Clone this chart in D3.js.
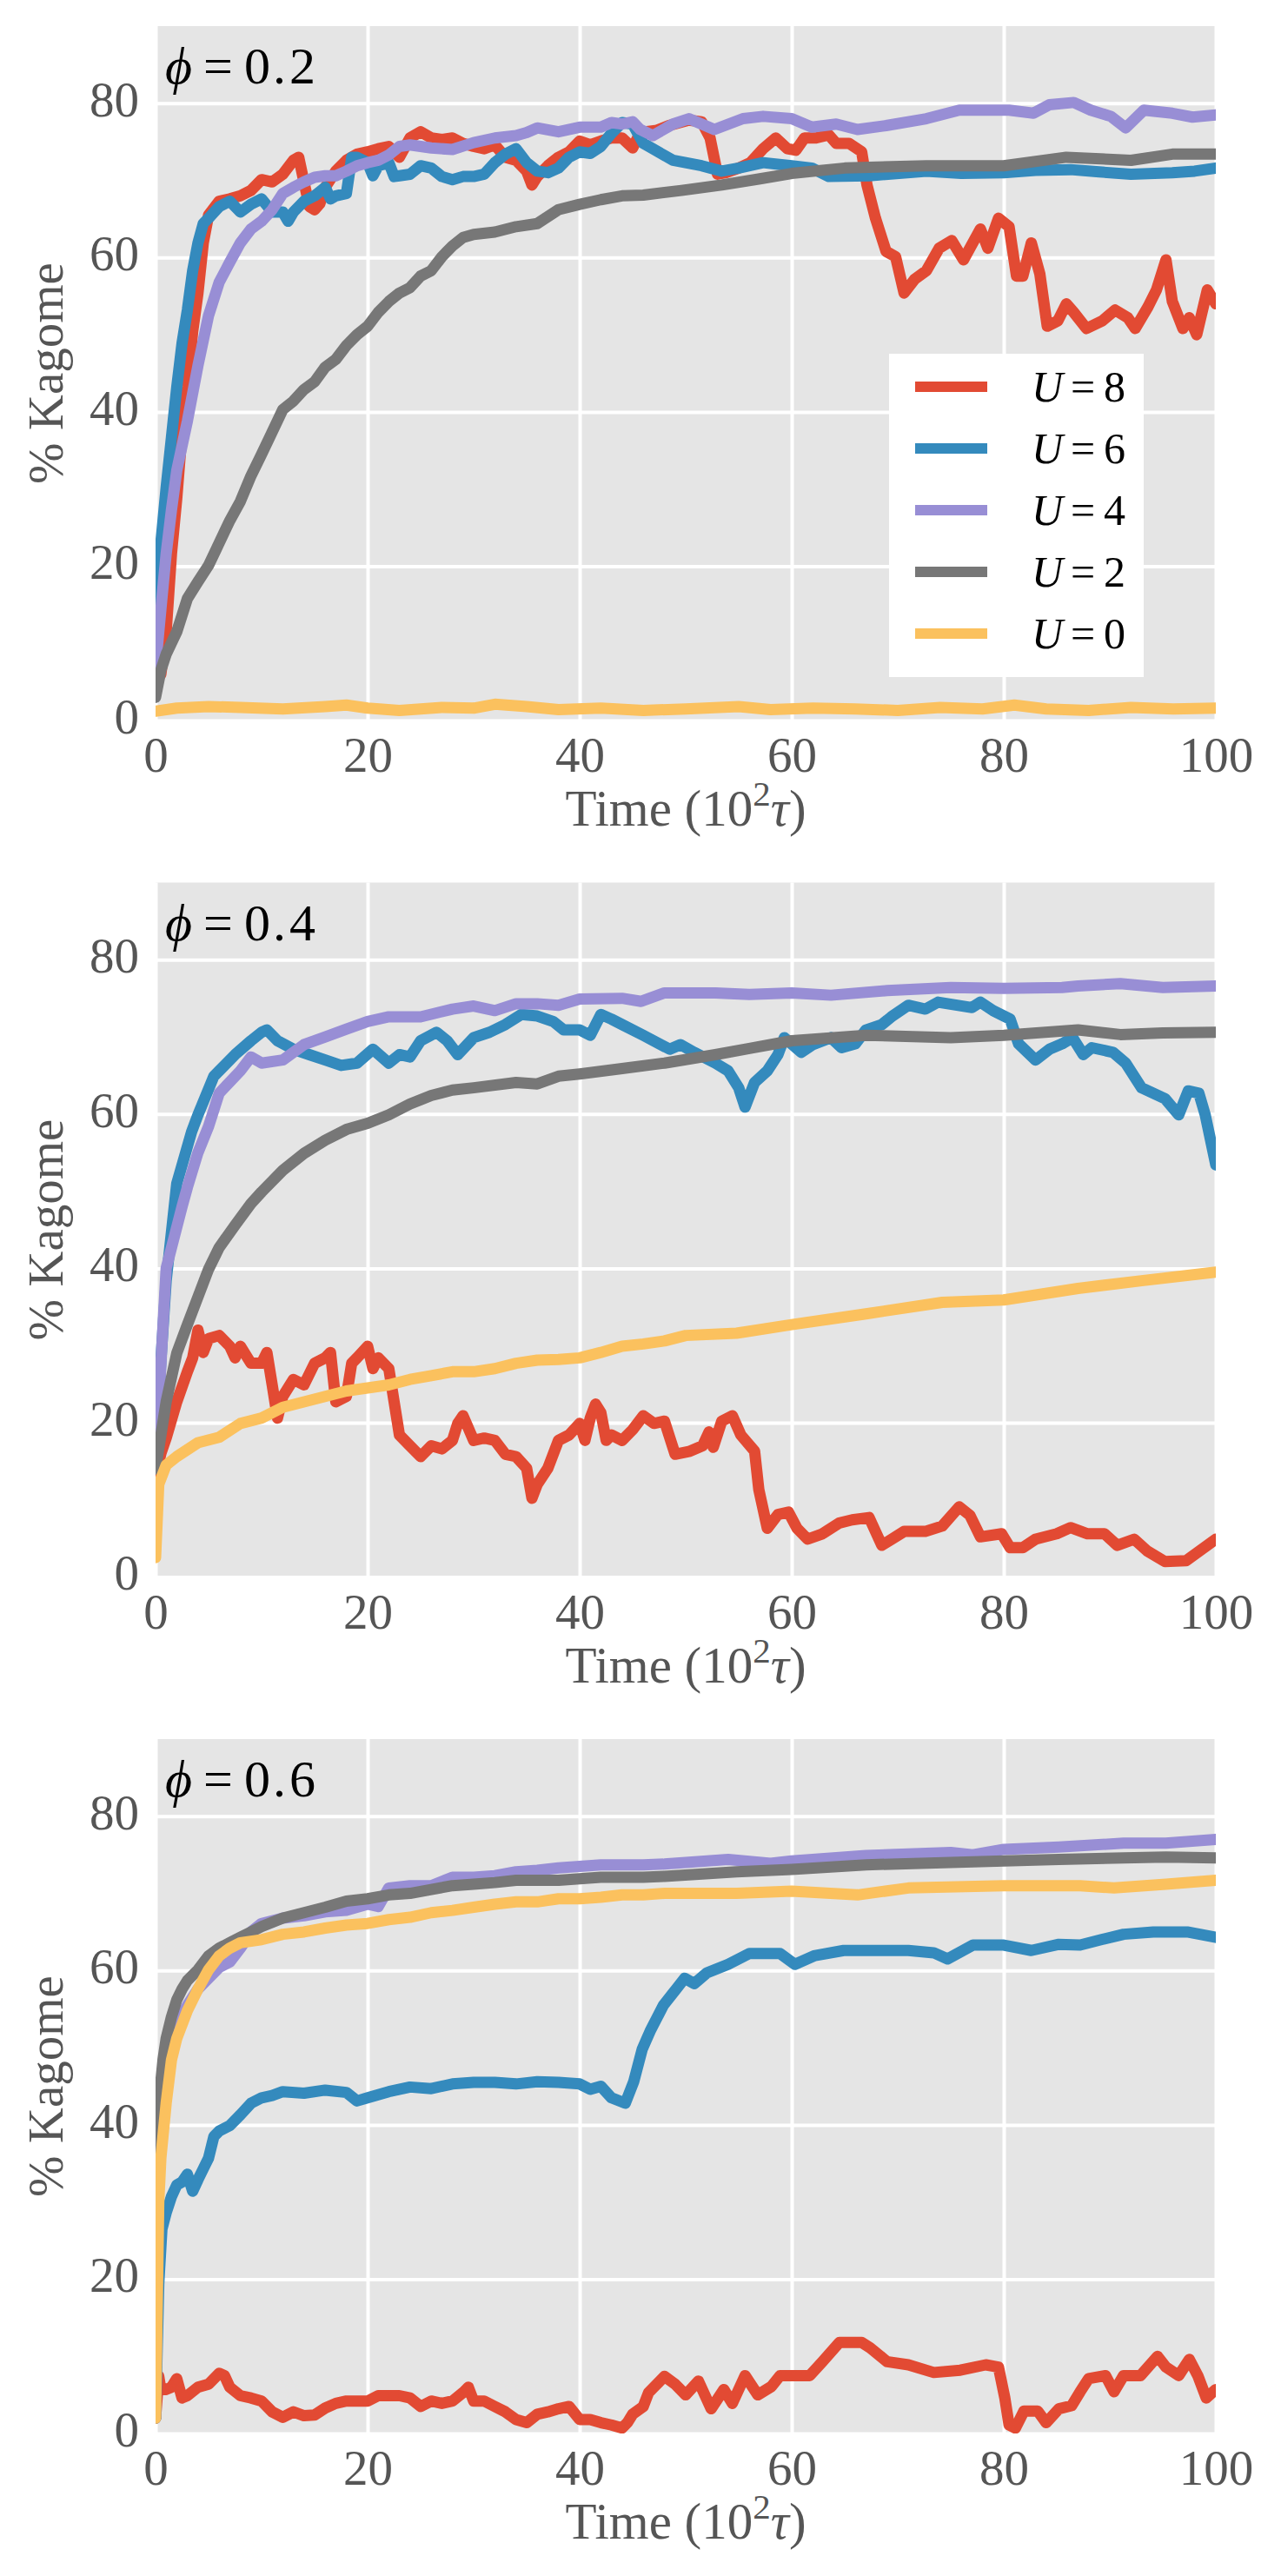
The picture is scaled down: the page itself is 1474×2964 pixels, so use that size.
<!DOCTYPE html>
<html>
<head>
<meta charset="utf-8">
<script src="https://cdn.jsdelivr.net/npm/d3@7"></script>
<style>
  body { margin: 0; background: #fff; }
  svg { display: block; }
</style>
</head>
<body>
<svg></svg>
<script>
// данные: [время (10^2 tau), % kagome]

// phi = 0.2
const phi02_U8 = [[0,5],[0.5,6],[1,11.5],[1.5,21.6],[2,28.8],[2.5,37.4],[3,43.2],[3.5,50.4],[4,55.4],[4.5,61.9],[5,65.5],[6,67.3],[7,67.6],[8,68],[9,68.7],[10,70.1],[11,69.8],[12,70.8],[13,72.6],[13.5,73],[14,69.8],[14.5,66.6],[15,66.2],[15.5,67],[16,69.1],[17,71.2],[18,72.6],[19,73.4],[20,73.7],[21,74.1],[22,74.4],[23,73],[24,75.5],[25,76.3],[26,75.5],[27,75.3],[28,75.5],[29,74.8],[30,74.4],[31,74.1],[32,74.6],[33,73],[34,72.6],[35,71.2],[35.5,69.4],[36,70.5],[37,71.9],[38,73],[39,73.7],[40,75.1],[41,74.6],[42,75.1],[43,75.5],[44,75.5],[45,74.2],[45.7,76.2],[47.3,76.5],[48.4,77.1],[50.3,77.8],[51.5,77.6],[52.3,75.5],[53,70.8],[53.8,71],[55,71.6],[56.1,72.3],[57.3,74.1],[58.5,75.5],[59.6,74.1],[60.4,73.9],[61.2,75.5],[62.3,75.5],[63.5,75.9],[64.2,74.8],[65.4,74.8],[66.6,73.7],[67.1,69.4],[67.9,65.1],[68.9,60.8],[69.8,60.1],[70.6,55.4],[71.6,57.2],[72.7,58.3],[73.9,61.2],[75.1,62.2],[76.2,59.7],[77.8,63.7],[78.5,61.2],[79.5,65.1],[80.5,64],[81.2,57.6],[81.8,57.6],[82.6,61.9],[83.4,57.9],[84.1,51.1],[85.1,51.8],[85.9,54],[86.6,52.9],[87.8,50.8],[89.3,51.8],[90.5,53.2],[91.7,52.2],[92.4,50.8],[93.6,53.6],[94.4,55.8],[95.3,59.7],[95.9,54.3],[96.9,50.8],[97.5,52.2],[98.2,50],[99.2,55.8],[100,54]];
const phi02_U6 = [[0,15],[0.5,23],[1,30.2],[1.5,36.7],[2,43.2],[2.5,48.9],[3,53.2],[3.5,58.3],[4,61.9],[4.5,64.4],[5,65.1],[6,66.6],[7,67.3],[8,65.9],[9,66.9],[10,67.6],[11,65.9],[12,65.9],[12.5,64.7],[13,65.9],[14,67.3],[15,68],[16,69.1],[16.5,67.6],[17,68],[18,68.3],[18.5,73],[19,73],[20,72.3],[20.5,70.6],[21,71.9],[22,72.3],[22.5,70.5],[23,70.6],[24,70.8],[25,71.9],[26,71.6],[27,70.5],[28,70.1],[29,70.5],[30,70.5],[31,70.8],[32,72.3],[33,73.4],[34,74.1],[35,72.3],[36,71.2],[37,71],[38,71.6],[39,73],[40,73.7],[41,73.5],[42,74.4],[43,76.1],[44,77.5],[45,77.3],[46,74.8],[46.9,74.1],[48.8,72.6],[51.5,71.9],[53.4,71.2],[55,71.6],[57.3,72.3],[60,71.9],[61.9,71.6],[63.5,70.5],[67.3,70.6],[72.7,71.2],[76,70.9],[80,71],[83,71.3],[86.3,71.4],[89,71.1],[92,70.8],[95.9,71],[98,71.2],[100,71.6]];
const phi02_U4 = [[0,7],[0.5,14.4],[1,21.6],[1.5,27.3],[2,32.4],[3,38.8],[4,46],[5,52.5],[6,56.8],[7,59.4],[8,61.9],[9,63.7],[10,64.7],[11,66.2],[12,68.3],[13,69.1],[14,69.8],[15,70.4],[16,70.6],[17,70.6],[18,71.2],[19,71.9],[20,72.3],[21,72.6],[22,73.3],[23,74.4],[24,74.6],[26,74.2],[28,74],[30,74.9],[32,75.5],[34,75.8],[35,76.2],[36,76.8],[38,76.3],[40,76.9],[42,76.9],[43,77.5],[44,77.3],[45,77.6],[45.7,76.6],[46.9,75.8],[48.8,77.3],[50.3,78],[52.7,76.6],[55.4,78],[57.3,78.3],[60,78],[61.9,76.9],[64.2,77.3],[66.2,76.6],[68.9,77.1],[72.7,78],[75.8,79.1],[80.5,79.1],[82.8,78.7],[84.3,79.8],[86.6,80.1],[88.2,79.1],[90.1,78.3],[91.5,76.8],[93.2,79.1],[95.9,78.7],[97.8,78.2],[100,78.5]];
const phi02_U2 = [[0,3],[0.5,6.5],[1,8.6],[2,11.5],[3,15.8],[4,18],[5,20.1],[6,23],[7,25.9],[8,28.4],[9,31.7],[10,34.5],[11,37.4],[12,40.3],[13,41.4],[14,42.9],[15,43.9],[16,45.8],[17,46.8],[18,48.6],[19,50],[20,51.1],[21,52.9],[22,54.3],[23,55.4],[24,56.1],[25,57.6],[26,58.3],[27,60.1],[28,61.5],[29,62.6],[30,63],[32,63.3],[34,64],[36,64.4],[38,66.2],[40,66.9],[42,67.5],[44,68],[46,68.1],[49.6,68.7],[53.4,69.4],[57,70.2],[60,70.9],[65,71.6],[72.7,71.9],[80,71.9],[85.9,73],[92,72.6],[95.9,73.4],[100,73.4]];
const phi02_U0 = [[0,1.2],[2,1.6],[5,1.8],[8,1.7],[12,1.5],[16,1.8],[18,2],[20,1.6],[23,1.3],[27,1.7],[30,1.6],[32,2.1],[35,1.8],[38,1.4],[42,1.6],[46,1.3],[50,1.5],[55,1.8],[58,1.4],[62,1.6],[66,1.5],[70,1.3],[74,1.7],[78,1.5],[81,2],[84,1.5],[88,1.3],[92,1.7],[96,1.5],[100,1.6]];

// phi = 0.4
const phi04_U8 = [[0,13],[0.5,16],[1,18],[2,22.7],[3,26.6],[3.5,28.4],[4,32],[4.5,29.1],[5,30.9],[6,31.3],[7,29.9],[7.5,28.4],[8,29.9],[9,27.7],[10,27.7],[10.5,29.1],[11,24.9],[11.5,20.6],[12,23.4],[13,25.6],[14,24.9],[15,27.7],[16,28.4],[16.5,29.1],[17,22.7],[18,23.4],[18.5,27.7],[19,28.4],[20,29.9],[20.5,27],[21,28.4],[22,27],[22.5,22.7],[23,18.4],[24,17],[25,15.6],[26,17],[27,16.6],[28,17.7],[28.5,19.9],[29,20.9],[30,17.7],[31,18],[32,17.7],[33,15.9],[34,15.6],[35,14.1],[35.5,10.2],[36,12],[37,14.1],[38,17.7],[39,18.4],[40,19.9],[40.5,17.7],[41,20.6],[41.5,22.4],[42,21.3],[42.5,17.7],[43,18.4],[44,17.7],[45,19.1],[46,20.9],[47,19.9],[48,20.2],[49,15.9],[50.4,16.3],[51.6,17],[52.2,18.8],[52.6,16.8],[53.4,20.2],[54.4,20.9],[55.2,18.4],[56.5,16.3],[56.9,11.3],[57.7,6.3],[58.7,8.1],[59.7,8.4],[60.5,6.3],[61.5,4.9],[62.9,5.6],[64.5,7],[65.7,7.4],[67.3,7.7],[68.5,4.1],[70.6,5.9],[72.6,5.9],[74.2,6.6],[75.8,9.1],[76.8,8],[77.8,5.2],[79.8,5.6],[80.6,3.8],[81.8,3.8],[83,4.9],[85,5.6],[86.3,6.4],[87.9,5.6],[89.5,5.6],[90.7,4.1],[92.3,4.9],[93.5,3.4],[95.2,2],[97.2,2.1],[98.5,3.4],[100,4.9]];
const phi04_U6 = [[0,15],[0.5,28],[1,38.4],[2,51],[3.4,57.7],[4,59.9],[5.5,64.9],[6,65.6],[7.5,67.7],[9,69.5],[10,70.6],[10.5,70.9],[11.5,69.5],[13,68.4],[14.5,67.7],[16,67],[17.5,66.3],[19,66.6],[20.5,68.4],[22,66.6],[23,67.7],[24,67.4],[25,69.5],[26.5,70.6],[27.5,69.5],[28.5,67.7],[30,69.9],[31.5,70.6],[33,71.6],[34.5,72.9],[36,72.7],[37.5,72],[38.5,70.9],[40,70.9],[41,70.2],[42,72.9],[43,72.3],[44,71.6],[46,70.2],[47.5,69.1],[48.5,68.4],[49.5,69],[50.8,68],[52.8,66.6],[54,65.6],[55,63.4],[55.6,60.9],[56.5,64.1],[57.7,65.6],[58.7,67.7],[59.3,69.9],[60.9,68],[62,69],[63.7,69.9],[64.7,68.6],[66,69.1],[67,70.9],[68.5,71.6],[69.4,72.6],[71,74.1],[72.6,73.6],[73.8,74.5],[77,73.8],[77.8,74.5],[79,73.4],[80.6,72.3],[81.4,69.1],[83,67],[84.3,68.4],[85.5,69.1],[86.5,69.9],[87.5,67.7],[88.3,68.6],[90.3,68],[91.5,66.6],[93,63.4],[95.2,62],[96.5,59.9],[97.4,63],[98.4,62.7],[99,59.9],[100,53.4]];
const phi04_U4 = [[0,15],[1,40],[2.5,48],[3,50.5],[4,55],[5,58.4],[6,62.7],[8,65.6],[9,67.4],[10,66.6],[12,67],[14,69],[16,70],[18,71],[20,72],[22,72.6],[25,72.6],[28,73.6],[30,74],[32,73.4],[34,74.3],[36,74.3],[38,74.1],[40,74.9],[44,75],[45.8,74.6],[48,75.7],[52.8,75.7],[56,75.5],[60,75.7],[63.7,75.4],[69,76],[75,76.4],[80,76.3],[85.5,76.4],[87,76.6],[91,76.9],[95,76.4],[100,76.6]];
const phi04_U2 = [[0,14],[1,22.7],[2,29],[3,32.7],[4,36.3],[5,39.9],[6,42.7],[7.5,45.6],[9,48.4],[10,49.9],[12,52.7],[14,54.9],[16,56.6],[18,58],[20,58.8],[22,59.9],[24,61.3],[26,62.4],[28,63.1],[30,63.4],[34,64.1],[36,63.9],[38,64.9],[40,65.2],[44,65.9],[48,66.6],[52.8,67.7],[56,68.5],[60,69.5],[67,70.2],[75,69.9],[80,70.2],[87,70.9],[91,70.3],[95,70.5],[100,70.6]];
const phi04_U0 = [[0,2.5],[0.3,12],[1,14.5],[2,15.6],[4,17.4],[6,18.1],[8,19.9],[10,20.6],[12,22],[14,22.7],[16,23.4],[18,24.1],[20,24.5],[22,24.9],[24,25.6],[26,26.1],[28,26.6],[30,26.6],[32,27],[34,27.7],[36,28.1],[38,28.2],[40,28.4],[42,29.1],[44,29.9],[46,30.2],[48,30.6],[50,31.3],[54.8,31.6],[60,32.7],[67,34.1],[74.2,35.6],[80,35.9],[87,37.4],[93,38.4],[100,39.5]];

// phi = 0.6
const phi06_U8 = [[0,2],[0.3,7.4],[0.5,5.7],[1,5.7],[1.5,6],[2,7.1],[2.5,4.6],[3,4.9],[4,6],[5,6.4],[6,7.8],[6.5,7.5],[7,6],[8,4.9],[9,4.6],[10,4.2],[11,2.8],[12,2.1],[13,2.8],[14,2.3],[15,2.4],[16,3.3],[17,3.9],[18,4.2],[20,4.2],[21,4.9],[22,4.9],[23,4.9],[24,4.6],[25,3.5],[26,4.2],[27,3.9],[28,4.2],[29,5.3],[29.5,6],[30,4.2],[31,4.2],[32,3.5],[33,2.8],[34,1.8],[35,1.4],[36,2.5],[37,2.8],[38,3.2],[39,3.5],[40,1.8],[41,1.8],[42,1.4],[43,1.1],[44,0.7],[44.5,1.4],[45,2.5],[46,3.5],[46.5,5.3],[47,6],[48,7.4],[49,6.4],[50,5],[51.2,6.8],[52.4,3.2],[53.6,5.7],[54.4,3.9],[55.6,7.5],[56.8,5],[58.1,6.1],[58.9,7.5],[60.1,7.5],[61.7,7.5],[62.9,9.3],[64.5,11.8],[66.6,11.8],[67.4,11.1],[69,9.3],[71,8.9],[73.4,7.9],[75.9,8.2],[78.3,8.9],[79.5,8.6],[80.1,4.6],[80.5,1.1],[81.1,0.7],[81.9,2.9],[83.2,2.9],[84,1.4],[85.2,3.2],[86.4,3.6],[87.2,5.4],[88,7.1],[89.6,7.5],[90.4,5.4],[91.3,7.5],[92.9,7.5],[94.5,10],[95.3,8.6],[96.5,7.5],[97.5,9.6],[98.3,7.5],[99.1,4.6],[100,5.7]];
const phi06_U6 = [[0,2],[0.3,19.4],[0.6,26.5],[1,28.6],[1.5,30.7],[2,32.2],[2.5,32.6],[3,33.6],[3.5,31.4],[4,32.9],[4.5,34.3],[5,35.7],[5.5,38.5],[6,39.2],[7,39.9],[8,41.3],[9,42.8],[10,43.5],[11,43.8],[12,44.3],[14,44.1],[16,44.5],[18,44.2],[19,43.1],[20,43.5],[22,44.3],[24,44.9],[26,44.7],[28,45.3],[30,45.5],[32,45.5],[34,45.3],[36,45.6],[38,45.5],[40,45.3],[41,44.6],[42,45],[43,43.5],[44.3,42.8],[45.1,45.6],[45.9,49.8],[46.7,52.3],[47.9,55.5],[49.1,57.6],[49.9,59],[50.8,58.3],[52,59.7],[54,60.8],[56,62.2],[58.9,62.2],[60.3,60.8],[62.1,61.9],[64.9,62.6],[69,62.6],[71,62.6],[73.4,62.3],[74.7,61.5],[77.1,63.3],[80,63.3],[82.6,62.6],[85.2,63.4],[87.2,63.3],[89.2,64],[91.3,64.7],[94.1,65],[97.3,65],[100,64.3]];
const phi06_U4 = [[0,2],[0.3,38],[1,48],[2,53],[3,55.5],[4,57.6],[5,59],[6,60.4],[7,61.1],[8,62.9],[9,65],[10,66.1],[12,66.8],[14,67.1],[16,67.6],[18,67.8],[20,68.6],[21,68.3],[22,70.7],[24,71],[26,71],[28,72.1],[30,72.1],[32,72.3],[34,72.8],[36,73],[38,73.3],[40,73.5],[42,73.7],[46,73.7],[48,73.8],[50,74],[54,74.4],[58,73.9],[60,74.2],[67,74.9],[75,75.3],[77.1,75],[80,75.7],[85.2,76],[91.3,76.5],[95.3,76.5],[100,77]];
const phi06_U2 = [[0,2],[0.15,33.6],[0.3,42.8],[0.7,48.4],[1,51.2],[1.5,54],[2,56.2],[2.5,57.6],[3,58.7],[4,60.1],[5,61.9],[6,62.9],[7,63.6],[8,64.3],[9,65],[10,65.7],[12,66.8],[14,67.5],[16,68.2],[18,69],[20,69.3],[22,69.8],[24,70],[26,70.5],[28,71],[30,71.2],[32,71.4],[34,71.7],[38,71.7],[40,71.9],[42,72.1],[46,72.1],[48,72.2],[54.8,72.8],[60,73.1],[67,73.7],[75,74],[80,74.2],[85.2,74.4],[91.3,74.6],[95.3,74.7],[100,74.6]];
const phi06_U0 = [[0,2],[0.3,30],[0.5,35.7],[1,42.8],[1.5,48.4],[2,51.2],[3,54.8],[4,57.6],[5,60.1],[6,61.9],[7,62.9],[8,63.6],[10,64],[12,64.7],[14,65],[16,65.5],[18,65.9],[20,66.1],[22,66.6],[24,66.9],[26,67.5],[28,67.8],[30,68.2],[32,68.6],[34,68.9],[36,68.9],[38,69.3],[40,69.3],[42,69.5],[44,69.8],[46,69.8],[48,70],[54.8,70],[60,70.3],[66.2,69.8],[71,70.7],[80,71],[87.2,71],[90.4,70.7],[95.3,71.2],[100,71.7]];

const xTicks = [0, 20, 40, 60, 80, 100];
const yTicks = [0, 20, 40, 60, 80];
const uLabels = ["8", "6", "4", "2", "0"];
const phiDigits = ["2", "4", "6"];
const colors = ["#E24A33", "#348ABD", "#988ED5", "#777777", "#FBC15E"];

const FONT = "'Liberation Serif', 'DejaVu Serif', serif";

class Figure {
    constructor(width = 1474, height = 2964) {
        this.width = width;
        this.height = height;
        this.svg = d3.select("svg").attr("width", width).attr("height", height)
            .style("background", "#fff");
    }
    getSVG() {
        return this.svg;
    }
}

class Panel {
    constructor(svg, index, top, series, digit, withLegend) {
        this.svg = svg;
        this.index = index;
        this.top = top;
        this.series = series;
        this.digit = digit;

        this.left = 179;
        this.pw = 1220;
        this.ph = 799;

        this.x = d3.scaleLinear().domain([0, 100]).range([0, this.pw]);
        this.y = d3.scaleLinear().domain([0, 90]).range([this.ph, 0]);

        this.setFrame();
        this.drawAxes();
        this.drawLines();
        this.drawLabels();
        if (withLegend) this.drawLegend();
    }

    setFrame() {
        this.g = this.svg.append("g")
            .attr("transform", `translate(${this.left},${this.top})`);

        this.g.append("rect")
            .attr("width", this.pw)
            .attr("height", this.ph)
            .attr("fill", "#E5E5E5");

        this.g.append("clipPath")
            .attr("id", "clip" + this.index)
            .append("rect")
            .attr("width", this.pw)
            .attr("height", this.ph);
    }

    styleAxis(g, dy) {
        // d3.axis ставит свой шрифт, поэтому переписываем после call
        g.attr("font-family", FONT).attr("font-size", 57);
        g.select(".domain").remove();
        g.selectAll("line").attr("stroke", "#fff").attr("stroke-width", 4);
        g.selectAll("text").attr("fill", "#555").attr("dy", dy);
    }

    drawAxes() {
        // сетка + подписи оси y
        this.g.append("g")
            .call(d3.axisLeft(this.y).tickValues(yTicks).tickSize(-this.pw).tickPadding(19))
            .call(g => this.styleAxis(g, "0.25em"));

        // сетка + подписи оси x
        this.g.append("g")
            .attr("transform", `translate(0,${this.ph})`)
            .call(d3.axisBottom(this.x).tickValues(xTicks).tickSize(-this.ph).tickPadding(19))
            .call(g => this.styleAxis(g, "0.71em"));
    }

    drawLines() {
        const line = d3.line()
            .x(d => this.x(d[0]))
            .y(d => this.y(d[1]));

        this.g.append("g")
            .attr("clip-path", `url(#clip${this.index})`)
            .selectAll("path")
            .data(this.series)
            .join("path")
            .attr("d", line)
            .attr("fill", "none")
            .attr("stroke", (d, i) => colors[i])
            .attr("stroke-width", 13)
            .attr("stroke-linejoin", "round")
            .attr("stroke-linecap", "round");
    }

    drawLabels() {
        // phi = 0.x
        const t = this.g.append("text")
            .attr("y", 66)
            .attr("font-family", FONT)
            .attr("font-size", 60)
            .attr("fill", "#000");
        t.append("tspan").attr("x", 11).attr("font-style", "italic").text("\u03D5");
        t.append("tspan").attr("x", 55).text("=");
        t.append("tspan").attr("x", 102).text("0");
        t.append("tspan").attr("x", 135).text(".");
        t.append("tspan").attr("x", 154).text(this.digit);

        // подпись оси x
        const xl = this.g.append("text")
            .attr("x", this.pw / 2)
            .attr("y", this.ph + 121)
            .attr("text-anchor", "middle")
            .attr("font-family", FONT)
            .attr("font-size", 59)
            .attr("fill", "#555");
        xl.append("tspan").text("Time (10");
        xl.append("tspan").attr("dy", -23).attr("font-size", 41).text("2");
        xl.append("tspan").attr("dy", 23).attr("font-style", "italic").text("\u03C4");
        xl.append("tspan").text(")");

        // подпись оси y
        this.g.append("text")
            .attr("transform", `translate(${72 - this.left},${this.ph / 2}) rotate(-90)`)
            .attr("text-anchor", "middle")
            .attr("font-family", FONT)
            .attr("font-size", 57)
            .attr("fill", "#555")
            .text("% Kagome");
    }

    drawLegend() {
        const lg = this.g.append("g")
            .attr("transform", `translate(${1023 - this.left},${407 - this.top})`);

        lg.append("rect")
            .attr("width", 293)
            .attr("height", 372)
            .attr("fill", "#fff");

        const rows = lg.selectAll("g.row")
            .data(uLabels)
            .join("g")
            .attr("class", "row")
            .attr("transform", (d, i) => `translate(0,${38 + i * 71})`);

        rows.append("line")
            .attr("x1", 30).attr("x2", 113)
            .attr("stroke", (d, i) => colors[i])
            .attr("stroke-width", 12);

        const txt = rows.append("text")
            .attr("y", 17)
            .attr("font-family", FONT)
            .attr("font-size", 50)
            .attr("fill", "#000");
        txt.append("tspan").attr("x", 164).attr("font-style", "italic").text("U");
        txt.append("tspan").attr("x", 209).text("=");
        txt.append("tspan").attr("x", 247).text(d => d);
    }
}

let fig = new Figure(1474, 2964);
const tops = [30, 1015.5, 2001];
const allSeries = [
    [phi02_U8, phi02_U6, phi02_U4, phi02_U2, phi02_U0],
    [phi04_U8, phi04_U6, phi04_U4, phi04_U2, phi04_U0],
    [phi06_U8, phi06_U6, phi06_U4, phi06_U2, phi06_U0]
];

let panels = [];
allSeries.forEach((s, i) => {
    panels.push(new Panel(fig.getSVG(), i, tops[i], s, phiDigits[i], i === 0));
});
</script>
</body>
</html>
